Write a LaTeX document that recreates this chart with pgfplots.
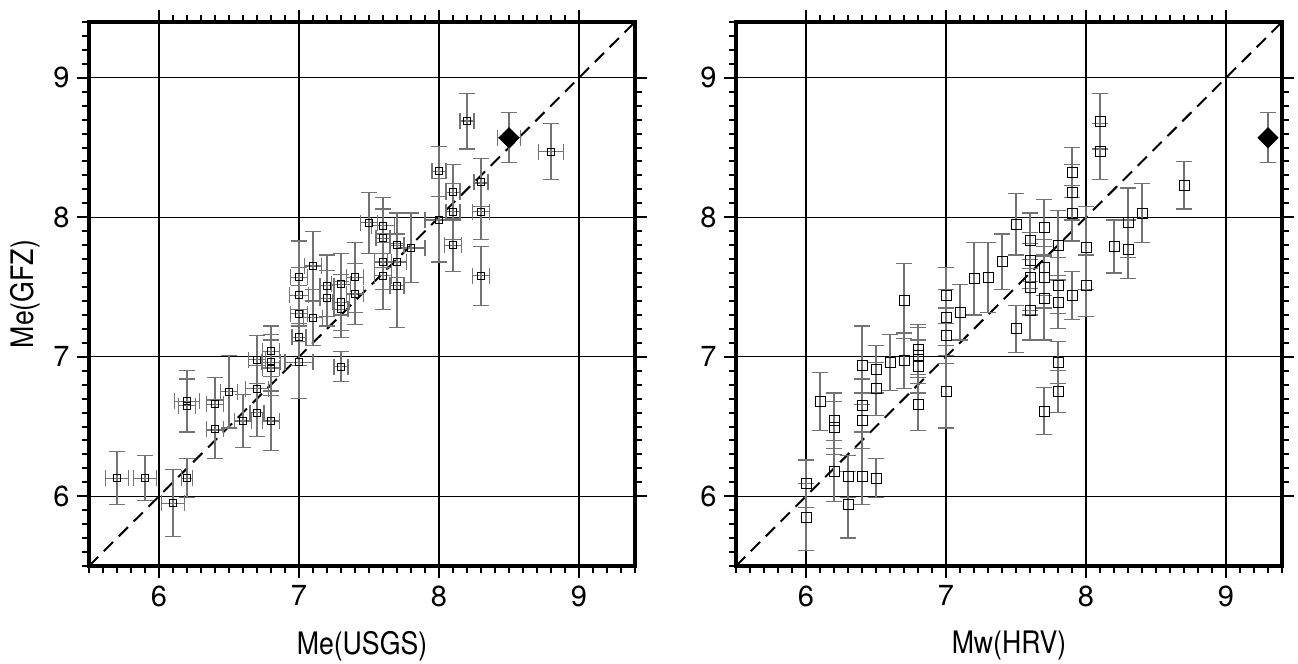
\documentclass[border=0pt]{standalone}
\usepackage{fontspec}
\setmainfont{TeX Gyre Heros}
\newfontfamily\narrowlabel{TeX Gyre Heros}[FakeStretch=0.86]
\usepackage{pgfplots}
\usepackage{pgfplotstable}
\usetikzlibrary{calc}
\pgfplotsset{compat=1.18}

\pgfplotstableread{
x y ex ey
5.7 6.13 0.08 0.19
5.9 6.13 0.08 0.16
6.1 5.95 0.08 0.24
6.2 6.13 0.04 0.14
6.2 6.68 0.09 0.22
6.2 6.65 0.06 0.19
6.4 6.66 0.06 0.19
6.4 6.48 0.06 0.21
6.5 6.75 0.06 0.26
6.6 6.54 0.06 0.19
6.7 6.77 0.08 0.17
6.7 6.60 0.05 0.17
6.7 6.98 0.06 0.17
6.8 7.04 0.06 0.18
6.8 6.96 0.07 0.20
6.8 6.92 0.06 0.20
6.8 6.54 0.06 0.21
7.0 6.96 0.10 0.26
7.0 7.14 0.05 0.20
7.0 7.31 0.06 0.20
7.0 7.44 0.07 0.20
7.0 7.57 0.06 0.26
7.1 7.65 0.06 0.25
7.1 7.28 0.07 0.20
7.2 7.51 0.05 0.22
7.2 7.42 0.05 0.20
7.3 7.52 0.07 0.22
7.3 7.39 0.06 0.20
7.3 7.34 0.05 0.20
7.3 6.93 0.05 0.11
7.4 7.57 0.06 0.25
7.4 7.45 0.06 0.22
7.5 7.96 0.06 0.22
7.6 7.94 0.08 0.20
7.6 7.85 0.05 0.21
7.6 7.68 0.06 0.20
7.6 7.58 0.06 0.24
7.7 7.80 0.05 0.23
7.7 7.68 0.07 0.20
7.7 7.51 0.05 0.30
7.8 7.78 0.10 0.25
8.0 7.98 0.10 0.30
8.0 8.33 0.05 0.18
8.1 8.18 0.05 0.20
8.1 8.04 0.05 0.20
8.1 7.80 0.06 0.19
8.2 8.69 0.05 0.20
8.3 8.25 0.05 0.17
8.3 8.04 0.06 0.20
8.3 7.58 0.06 0.21
8.8 8.47 0.09 0.20
}\leftdata

\pgfplotstableread{
x y ey
6.0 6.09 0.17
6.0 5.85 0.24
6.1 6.68 0.21
6.2 6.54 0.20
6.2 6.49 0.19
6.2 6.18 0.22
6.3 6.14 0.15
6.3 5.94 0.24
6.4 6.94 0.28
6.4 6.65 0.19
6.4 6.54 0.20
6.4 6.14 0.20
6.5 6.91 0.17
6.5 6.77 0.19
6.5 6.13 0.14
6.6 6.96 0.20
6.7 7.40 0.27
6.7 6.97 0.20
6.8 7.05 0.18
6.8 7.01 0.20
6.8 6.93 0.19
6.8 6.66 0.19
7.0 7.44 0.20
7.0 7.28 0.20
7.0 7.15 0.20
7.0 6.75 0.26
7.1 7.32 0.20
7.2 7.56 0.26
7.3 7.57 0.25
7.4 7.68 0.20
7.5 7.95 0.22
7.5 7.20 0.17
7.6 7.83 0.20
7.6 7.69 0.20
7.6 7.57 0.24
7.6 7.50 0.20
7.6 7.33 0.21
7.7 7.93 0.20
7.7 7.64 0.20
7.7 7.57 0.22
7.7 7.42 0.30
7.7 6.61 0.17
7.8 7.80 0.25
7.8 7.51 0.20
7.8 7.39 0.19
7.8 6.96 0.15
7.8 6.75 0.15
7.9 8.32 0.18
7.9 8.18 0.20
7.9 8.03 0.20
7.9 7.44 0.17
8.0 7.78 0.30
8.0 7.51 0.22
8.1 8.69 0.20
8.1 8.47 0.20
8.2 7.79 0.19
8.3 7.96 0.25
8.3 7.77 0.21
8.4 8.03 0.21
8.7 8.23 0.17
}\rightdata

\pgfplotsset{
  gmtbase/.style={
    scale only axis, width=273pt, height=272pt,
    xmin=5.5, xmax=9.4, ymin=5.5, ymax=9.4,
    xtick={6,7,8,9}, ytick={6,7,8,9},
    minor tick num=9,
    tick align=outside,
    major tick length=6.2pt, minor tick length=3.3pt,
    every tick/.style={black, line width=1pt},
  },
  gmt/.style={
    gmtbase,
    xtick pos=upper, ytick pos=right,
    xticklabels={}, yticklabels={},
    grid=major, major grid style={black, line width=0.7pt},
    axis line style={line width=2pt},
  },
  gmtlow/.style={
    gmtbase,
    axis x line*=bottom, axis y line*=left,
    x axis line style={-, draw=none}, y axis line style={-, draw=none},
    /pgf/number format/assume math mode=true,
    ticklabel style={font=\fontsize{14.5}{16}\selectfont},
    label style={font=\narrowlabel\fontsize{15.5}{18}\selectfont},
    xlabel style={at={(axis description cs:0.5,-0.147)}, anchor=center},
    ylabel style={at={(axis description cs:-0.117,0.5)}, anchor=center, rotate=0},
  },
  error bars/ebar/.style={
    error bar style={black!55, line width=0.6pt},
    error mark options={rotate=90, black!55, line width=0.6pt, mark size=4pt},
  },
}

\begin{document}
\begin{tikzpicture}
\useasboundingbox (0,0) rectangle (649pt,332pt);
\begin{axis}[gmt, name=L, at={(44.5pt,49pt)}, anchor=south west]
\addplot[black, line width=1pt, dash pattern=on 6.5pt off 4pt] coordinates {(5.5,5.5) (9.4,9.4)};
\addplot[black, only marks, mark=square, mark size=1.75pt, mark options={black, line width=0.5pt},
  error bars/.cd, x dir=both, x explicit, y dir=both, y explicit, ebar]
  table[x=x, y=y, x error=ex, y error=ey] {\leftdata};
\addplot[black, only marks, mark=square*, mark size=3.54pt, mark options={rotate=45, fill=black},
  error bars/.cd, x dir=both, x explicit, y dir=both, y explicit, ebar]
  coordinates {(8.5,8.57) +- (0.08,0.18)};
\end{axis}
\begin{axis}[gmtlow, at={(44.5pt,49pt)}, anchor=south west,
  xlabel={Me(USGS)}, ylabel={Me(GFZ)}]
\end{axis}
\begin{axis}[gmt, name=R, at={(368pt,49pt)}, anchor=south west]
\addplot[black, line width=1pt, dash pattern=on 6.5pt off 4pt] coordinates {(5.5,5.5) (9.4,9.4)};
\addplot[black, only marks, mark=square, mark size=2.5pt, mark options={black, line width=0.5pt},
  error bars/.cd, y dir=both, y explicit, ebar]
  table[x=x, y=y, y error=ey] {\rightdata};
\addplot[black, only marks, mark=square*, mark size=3.54pt, mark options={rotate=45, fill=black},
  error bars/.cd, y dir=both, y explicit, ebar]
  coordinates {(9.3,8.57) +- (0,0.18)};
\end{axis}
\begin{axis}[gmtlow, at={(368pt,49pt)}, anchor=south west,
  xlabel={Mw(HRV)}]
\end{axis}
% bottom and left frame ticks (minor every 0.1, major at integers)
\foreach \ax in {L,R}{
  \foreach \i in {55,...,94}{
    \draw[black, line width=1pt] ($(\ax.south west)!{(\i-55)/39}!(\ax.south east)$) -- ++(0,-3.3pt);
    \draw[black, line width=1pt] ($(\ax.south west)!{(\i-55)/39}!(\ax.north west)$) -- ++(-3.3pt,0);
  }
  \foreach \i in {60,70,80,90}{
    \draw[black, line width=1pt] ($(\ax.south west)!{(\i-55)/39}!(\ax.south east)$) -- ++(0,-6.2pt);
    \draw[black, line width=1pt] ($(\ax.south west)!{(\i-55)/39}!(\ax.north west)$) -- ++(-6.2pt,0);
  }
}
\end{tikzpicture}
\end{document}
